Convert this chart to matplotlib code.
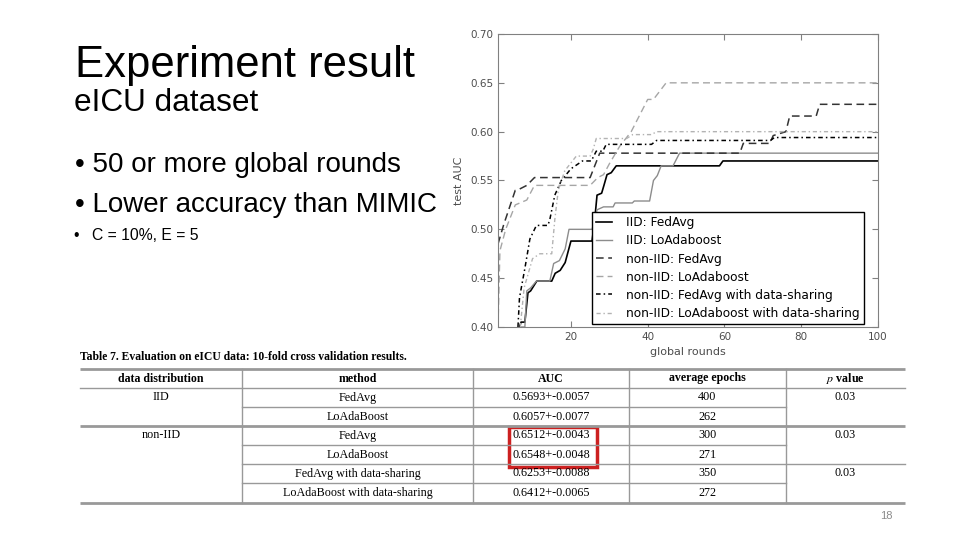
import numpy as np
import matplotlib
matplotlib.use("Agg")
import matplotlib.pyplot as plt

plt.rcParams['font.family'] = ['DejaVu Sans']
plt.rcParams['mathtext.fontset'] = 'stix'

# ---- curves (global round, test AUC) ----
iid_fedavg_x = [6.6, 7.0, 8.0, 8.8, 9.5, 11.1, 15.0, 15.9, 17.2, 18.5, 20.0, 25.5, 26.2, 26.8, 28.0, 28.6, 29.4, 30.5, 31.8, 58.7, 59.6, 100]
iid_fedavg_y = [0.40, 0.405, 0.405, 0.435, 0.437, 0.447, 0.447, 0.455, 0.458, 0.466, 0.488, 0.488, 0.51, 0.535, 0.537, 0.545, 0.556, 0.558, 0.565, 0.565, 0.570, 0.570]

iid_lo_x = [7.0, 8.0, 8.5, 9.5, 11.0, 14.5, 15.5, 17.0, 18.5, 19.5, 25.5, 26.2, 26.8, 28.5, 31.0, 31.5, 36.0, 36.5, 40.5, 41.5, 42.5, 43.5, 46.6, 48.3, 100]
iid_lo_y = [0.40, 0.40, 0.437, 0.44, 0.447, 0.447, 0.465, 0.468, 0.48, 0.50, 0.50, 0.51, 0.52, 0.523, 0.523, 0.527, 0.527, 0.529, 0.529, 0.55, 0.555, 0.565, 0.565, 0.578, 0.578]

noniid_fedavg_x = [1, 2.5, 5.5, 6.5, 8.5, 10.5, 25.0, 27.5, 64.0, 64.9, 71.8, 72.7, 76.0, 77.0, 83.9, 84.8, 100]
noniid_fedavg_y = [0.485, 0.505, 0.540, 0.541, 0.545, 0.553, 0.553, 0.578, 0.578, 0.588, 0.588, 0.596, 0.600, 0.616, 0.616, 0.628, 0.628]

noniid_lo_x = [1, 1.5, 3.0, 5.5, 8.5, 10.5, 25.0, 27.0, 28.5, 30.0, 32.7, 35.7, 40.0, 41.5, 44.8, 100]
noniid_lo_y = [0.40, 0.478, 0.50, 0.525, 0.53, 0.545, 0.545, 0.553, 0.556, 0.567, 0.585, 0.60, 0.633, 0.633, 0.65, 0.65]

ds_fedavg_x = [6.2, 6.6, 8.0, 9.3, 11.0, 14.0, 14.5, 15.8, 17.5, 20.0, 23.0, 25.3, 26.6, 28.3, 29.2, 41.0, 42.3, 72.0, 73.0, 100]
ds_fedavg_y = [0.40, 0.43, 0.46, 0.49, 0.504, 0.504, 0.51, 0.535, 0.55, 0.562, 0.57, 0.57, 0.58, 0.58, 0.587, 0.587, 0.591, 0.591, 0.594, 0.594]

ds_lo_x = [6.8, 7.8, 10.0, 11.9, 15.0, 15.8, 16.7, 18.4, 21.4, 25.0, 25.8, 26.6, 34.5, 36.1, 41.0, 42.3, 100]
ds_lo_y = [0.40, 0.44, 0.47, 0.475, 0.475, 0.51, 0.54, 0.56, 0.575, 0.575, 0.582, 0.593, 0.593, 0.597, 0.597, 0.60, 0.60]

labels = ["IID: FedAvg", "IID: LoAdaboost", "non-IID: FedAvg", "non-IID: LoAdaboost",
          "non-IID: FedAvg with data-sharing", "non-IID: LoAdaboost with data-sharing"]

# ---- table ----
col_headers = ["data distribution", "method", "AUC", "average epochs", "$p$ value"]
distributions = ["IID", "", "non-IID", "", "", ""]
methods = ["FedAvg", "LoAdaBoost", "FedAvg", "LoAdaBoost", "FedAvg with data-sharing", "LoAdaBoost with data-sharing"]
aucs = ["0.5693+-0.0057", "0.6057+-0.0077", "0.6512+-0.0043", "0.6548+-0.0048", "0.6253+-0.0088", "0.6412+-0.0065"]
epochs = ["400", "262", "300", "271", "350", "272"]
pvalues = ["0.03", "", "0.03", "", "0.03", ""]

fig = plt.figure(figsize=(9.6, 5.4), dpi=100)

# slide text
fig.text(75 / 960, 1 - 77 / 540, "Experiment result", fontsize=31.4, family="Liberation Sans", color="black")
fig.text(74 / 960, 1 - 111 / 540, "eICU dataset", fontsize=22.7, family="Liberation Sans", color="black")
fig.text(75 / 960, 1 - 172 / 540, "• 50 or more global rounds", fontsize=20, family="Liberation Sans")
fig.text(75 / 960, 1 - 212 / 540, "• Lower accuracy than MIMIC", fontsize=20, family="Liberation Sans")
fig.text(73 / 960, 1 - 240 / 540, "•", fontsize=11.3, family="Liberation Sans")
fig.text(92 / 960, 1 - 240 / 540, "C = 10%, E = 5", fontsize=11.3, family="Liberation Sans")
fig.text(880 / 960, 1 - 519 / 540, "18", fontsize=8, color="0.55", family="Liberation Sans")

# chart
ax = fig.add_axes([498 / 960, 1 - 327 / 540, 380 / 960, 293 / 540])
ax.plot(iid_fedavg_x, iid_fedavg_y, color="black", lw=1.2, label=labels[0])
ax.plot(iid_lo_x, iid_lo_y, color="0.55", lw=1.0, label=labels[1])
ax.plot(noniid_fedavg_x, noniid_fedavg_y, color="0.2", lw=1.1, dashes=(5, 3), label=labels[2])
ax.plot(noniid_lo_x, noniid_lo_y, color="0.65", lw=1.0, dashes=(5, 3), label=labels[3])
ax.plot(ds_fedavg_x, ds_fedavg_y, color="black", lw=1.1, dashes=(3, 2, 1, 2), label=labels[4])
ax.plot(ds_lo_x, ds_lo_y, color="0.7", lw=1.0, dashes=(3, 2, 1, 2), label=labels[5])

ax.set_xlim(1, 100)
ax.set_ylim(0.40, 0.70)
ax.set_xticks([20, 40, 60, 80, 100])
ax.set_yticks(np.arange(0.40, 0.701, 0.05))
ax.yaxis.set_major_formatter(matplotlib.ticker.FormatStrFormatter("%.2f"))
ax.tick_params(direction="in", top=True, right=True, labelsize=7.5, labelcolor="0.3", color="0.5", length=4)
for s in ax.spines.values():
    s.set_color("0.5")
ax.set_xlabel("global rounds", fontsize=8, color="0.3", labelpad=4)
ax.set_ylabel("test AUC", fontsize=8, color="0.3", labelpad=4)
leg = ax.legend(loc="upper left", bbox_to_anchor=(0.247, 0.392), borderaxespad=0, fontsize=8.7,
                handlelength=1.3, handletextpad=1.2, labelspacing=0.42, fancybox=False,
                framealpha=1, edgecolor="black", borderpad=0.35)
leg.get_frame().set_linewidth(1.0)

# table overlay
tx = fig.add_axes([0, 0, 1, 1])
tx.set_xlim(0, 960)
tx.set_ylim(540, 0)
tx.axis("off")

tx.text(80, 357, "Table 7. Evaluation on eICU data: 10-fold cross validation results.",
        family="Liberation Serif", fontweight="bold", fontsize=8.4, va="center", ha="left")

col_edges = [80, 242, 473, 629, 786, 905]
row_edges = [369, 388, 407, 426, 445, 464, 483, 503]
col_mid = [(a + b) / 2 for a, b in zip(col_edges[:-1], col_edges[1:])]
row_mid = [(a + b) / 2 for a, b in zip(row_edges[:-1], row_edges[1:])]
gray = "0.6"

for y in [369, 426, 503]:
    tx.plot([80, 905], [y, y], color=gray, lw=2.0, solid_capstyle="butt")
tx.plot([80, 905], [388, 388], color=gray, lw=1.0)
for y in [407, 445, 483]:
    tx.plot([242, 786], [y, y], color=gray, lw=1.0)
tx.plot([242, 905], [464, 464], color=gray, lw=1.0)
for x in col_edges[1:-1]:
    tx.plot([x, x], [369, 503], color=gray, lw=1.0)

for c, h in enumerate(col_headers):
    tx.text(col_mid[c], row_mid[0], h, family="Liberation Serif", fontweight="bold",
            fontsize=8.6, ha="center", va="center")
columns = [distributions, methods, aucs, epochs, pvalues]
for c, vals in enumerate(columns):
    for r, v in enumerate(vals):
        if v:
            tx.text(col_mid[c], row_mid[r + 1], v, family="Liberation Serif",
                    fontsize=8.7, ha="center", va="center")

tx.add_patch(plt.Rectangle((509, 427), 88, 40, fill=False, edgecolor="#cc2020", lw=2.5))

fig.savefig("out.png", dpi=100)
